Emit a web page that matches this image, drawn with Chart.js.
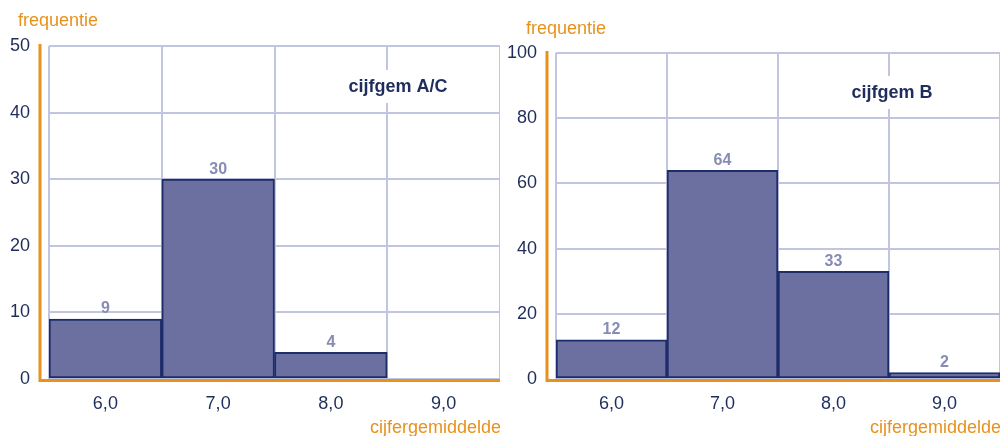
<!DOCTYPE html>
<html>
<head>
<meta charset="utf-8">
<script src="https://cdn.jsdelivr.net/npm/chart.js@4/dist/chart.umd.min.js"></script>
<style>
  body { margin: 0; background: #fff; }
  .wrap { display: flex; width: 1000px; height: 436px; }
  canvas { display: block; }
</style>
</head>
<body>
<div class="wrap">
  <canvas id="chartAC" width="500" height="436"></canvas>
  <canvas id="chartB" width="500" height="436"></canvas>
</div>
<script>
// Data
const categories = ['6,0', '7,0', '8,0', '9,0'];
const valuesAC = [9, 30, 4, 0];
const valuesB = [12, 64, 33, 2];
const yMaxAC = 50, yStepAC = 10;
const yMaxB = 100, yStepB = 20;

const NAVY = '#1f2d5c';
const ORANGE = '#e8911c';
const GRID = '#c1c5df';
const FONT = '"Liberation Sans", Arial, sans-serif';

// Draws the orange axes, bar values and the texts around the plot
const decorPlugin = {
    id: 'decor',
    beforeDatasetsDraw(chart, args, opts) {
        const ctx = chart.ctx;
        ctx.save();
        ctx.font = 'bold 18px ' + FONT;
        const w = ctx.measureText(opts.title).width;
        ctx.fillStyle = '#fff';
        ctx.fillRect(opts.titleX - w / 2 - 4, opts.titleY - 17, w + 8, 33);
        ctx.fillStyle = NAVY;
        ctx.textAlign = 'center';
        ctx.textBaseline = 'middle';
        ctx.fillText(opts.title, opts.titleX, opts.titleY);
        ctx.restore();
    },
    afterDatasetsDraw(chart, args, opts) {
        const ctx = chart.ctx;
        const area = chart.chartArea;
        const meta = chart.getDatasetMeta(0);
        ctx.save();

        // values above bars
        ctx.font = 'bold 16px ' + FONT;
        ctx.fillStyle = '#878cb4';
        ctx.textAlign = 'center';
        ctx.textBaseline = 'bottom';
        chart.data.datasets[0].data.forEach((v, i) => {
            if (!v) return;
            const bar = meta.data[i];
            ctx.fillText(String(v), bar.x, bar.y - 2);
        });

        // orange axes with a small gap to the plot
        const ax = area.left - 9;
        ctx.strokeStyle = ORANGE;
        ctx.lineWidth = 3;
        ctx.beginPath();
        ctx.moveTo(ax, area.top - 2);
        ctx.lineTo(ax, area.bottom + 1.5);
        ctx.lineTo(area.right, area.bottom + 1.5);
        ctx.stroke();

        // axis titles
        ctx.font = '18px ' + FONT;
        ctx.fillStyle = ORANGE;
        ctx.textBaseline = 'middle';
        ctx.textAlign = 'left';
        ctx.fillText('frequentie', opts.yTitleX, opts.yTitleY);
        ctx.textAlign = 'right';
        ctx.fillText('cijfergemiddelde', chart.width + 1, 428);
        ctx.restore();
    }
};

function makeChart(id, values, yMax, yStep, top, yWidth, decor) {
    const canvas = document.getElementById(id);
    return new Chart(canvas.getContext('2d'), {
        type: 'bar',
        data: {
            labels: categories,
            datasets: [{
                data: values,
                backgroundColor: '#6b70a0',
                borderColor: '#1e2c6a',
                borderWidth: 2,
                borderSkipped: false,
                barPercentage: 1,
                categoryPercentage: 1
            }]
        },
        options: {
            responsive: false,
            animation: false,
            layout: { padding: { top: top, right: 0, bottom: 0, left: 0 } },
            plugins: {
                legend: { display: false },
                tooltip: { enabled: false },
                decor: decor
            },
            scales: {
                x: {
                    offset: true,
                    grid: { offset: true, color: GRID, lineWidth: 2, drawTicks: false },
                    border: { display: false },
                    ticks: { color: NAVY, font: { family: FONT, size: 18 }, padding: 14 },
                    afterFit(scale) { scale.height = 436 - 379; }
                },
                y: {
                    min: 0,
                    max: yMax,
                    grid: { color: GRID, lineWidth: 2, drawTicks: false },
                    border: { display: false },
                    ticks: { stepSize: yStep, color: NAVY, font: { family: FONT, size: 18 }, padding: 19 },
                    afterFit(scale) { scale.width = yWidth; }
                }
            }
        },
        plugins: [decorPlugin]
    });
}

makeChart('chartAC', valuesAC, yMaxAC, yStepAC, 46, 49,
    { title: 'cijfgem A/C', titleX: 398, titleY: 87, yTitleX: 18, yTitleY: 21 });
makeChart('chartB', valuesB, yMaxB, yStepB, 53, 56,
    { title: 'cijfgem B', titleX: 392, titleY: 93, yTitleX: 26, yTitleY: 29 });
</script>
</body>
</html>
